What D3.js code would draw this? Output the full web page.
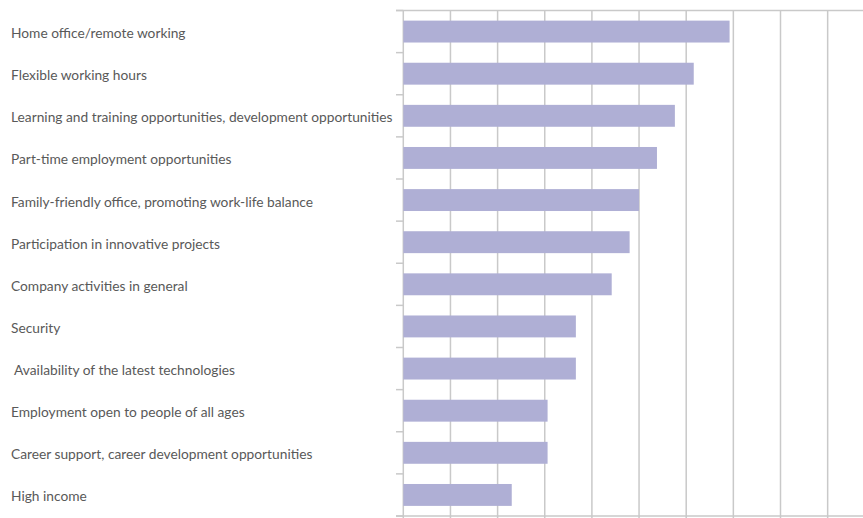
<!DOCTYPE html>
<html>
<head>
<meta charset="utf-8">
<script src="https://cdn.jsdelivr.net/npm/d3@7"></script>
<style>
  html, body { margin: 0; padding: 0; background: #fff; }
  svg { display: block; }
  text { white-space: pre; }
</style>
</head>
<body>
<svg id="chart" width="863" height="518"></svg>
<script>
// Workplace attributes, share of respondents (%)
const categories = [
  "Home office/remote working",
  "Flexible working hours",
  "Learning and training opportunities, development opportunities",
  "Part-time employment opportunities",
  "Family-friendly office, promoting work-life balance",
  "Participation in innovative projects",
  "Company activities in general",
  "Security",
  " Availability of the latest technologies",
  "Employment open to people of all ages",
  "Career support, career development opportunities",
  "High income"
];
const values = [34.6, 30.8, 28.8, 26.9, 25.0, 24.0, 22.1, 18.3, 18.3, 15.3, 15.3, 11.5];
const xTicks = [0, 5, 10, 15, 20, 25, 30, 35, 40, 45, 50];

const svg = d3.select("#chart");
const plotLeft = 403.3, plotTop = 10.5, plotBottom = 516;
const step = 47.15;

const x = d3.scaleLinear().domain([0, 50]).range([plotLeft, plotLeft + step * 10]);
const y = d3.scaleBand().domain(categories).range([plotTop, plotBottom])
  .paddingInner(0.48).paddingOuter(0.24);

const grid = "#c9c9c9";

// vertical gridlines
svg.append("g")
  .selectAll("line")
  .data(xTicks)
  .join("line")
  .attr("x1", d => x(d)).attr("x2", d => x(d))
  .attr("y1", plotTop).attr("y2", 518)
  .attr("stroke", grid).attr("stroke-width", 1.5);

// top border and bottom axis line
[plotTop, plotBottom].forEach(yy => {
  svg.append("line")
    .attr("x1", 396).attr("x2", x(50))
    .attr("y1", yy).attr("y2", yy)
    .attr("stroke", grid).attr("stroke-width", 1.5);
});

// category axis ticks at band boundaries
const bounds = d3.range(categories.length + 1)
  .map(i => plotTop + i * (plotBottom - plotTop) / categories.length);
svg.append("g")
  .selectAll("line")
  .data(bounds)
  .join("line")
  .attr("x1", 396).attr("x2", plotLeft)
  .attr("y1", d => d).attr("y2", d => d)
  .attr("stroke", grid).attr("stroke-width", 1.5);

// bars
svg.append("g")
  .selectAll("rect")
  .data(categories)
  .join("rect")
  .attr("x", x(0))
  .attr("y", d => y(d))
  .attr("width", (d, i) => x(values[i]) - x(0))
  .attr("height", y.bandwidth())
  .attr("fill", "#afafd5");

// category labels
const labels = svg.append("g")
  .selectAll("text")
  .data(categories)
  .join("text")
  .attr("x", 11)
  .attr("y", d => y(d) + y.bandwidth() / 2 + 1)
  .attr("dominant-baseline", "central")
  .attr("font-family", "Lato, 'Open Sans', sans-serif")
  .attr("font-size", 13)
  .attr("fill", "#595959")
  .text(d => d);

// size labels so the longest one ends just before the axis
const longest = labels.filter((d, i) => i === 2).node();
const w = longest.getComputedTextLength();
labels.attr("font-size", 13 * 382 / w);
</script>
</body>
</html>
